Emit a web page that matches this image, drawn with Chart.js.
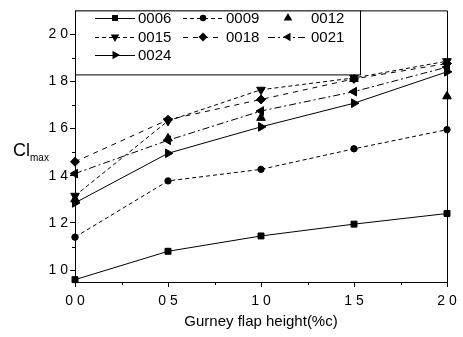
<!DOCTYPE HTML>
<html>
<head>
    <script src="https://cdn.jsdelivr.net/npm/chart.js"></script>
    <style>
        body { margin: 0; background: white; }
        #wrap { position: relative; width: 463px; height: 337px; }
        #ylab { position: absolute; left: 13px; top: 140px; font-family: 'Liberation Sans', Arial, sans-serif; font-size: 18px; color: black; }
        #ylab sub { font-size: 10px; }
    </style>
</head>
<body>

<div id="wrap">
    <canvas id="clChart" width="463" height="337"></canvas>
    <div id="ylab">Cl<sub>max</sub></div>
</div>

<script type="text/javascript">
    // gurney flap height (%c)
    const flapHeight = [0, 0.5, 1.0, 1.5, 2.0];

    const s0006 = [0.96, 1.08, 1.145, 1.195, 1.24];
    const s0009 = [1.14, 1.378, 1.427, 1.514, 1.595];
    const s0012 = [1.30, 1.558, 1.645, 1.81, 1.736];
    const s0015 = [1.315, 1.632, 1.764, 1.814, 1.885];
    const s0018 = [1.459, 1.637, 1.723, 1.81, 1.875];
    const s0021 = [1.409, 1.55, 1.674, 1.756, 1.86];
    const s0024 = [1.285, 1.495, 1.607, 1.707, 1.84];

    const seriesNames = ['0006', '0009', '0012', '0015', '0018', '0021', '0024'];

    const xTickValues = [0, 0.5, 1.0, 1.5, 2.0];
    const xTickLabels = ['0 0', '0 5', '1 0', '1 5', '2 0'];
    const xMinorTicks = [0.25, 0.75, 1.25, 1.75];
    const yTickValues = [1.0, 1.2, 1.4, 1.6, 1.8, 2.0];
    const yTickLabels = ['1 0', '1 2', '1 4', '1 6', '1 8', '2 0'];
    const yMinorTicks = [1.1, 1.3, 1.5, 1.7, 1.9];

    const FONT = "'Liberation Sans', Arial, sans-serif";

    function pts(values) {
        return values.map((v, i) => ({x: flapHeight[i], y: v}));
    }

    function makeSet(name, values, style, radius, rotation, dash, showLine) {
        return {
            label: name,
            data: pts(values),
            borderColor: 'black',
            backgroundColor: 'black',
            borderWidth: 1,
            borderDash: dash,
            pointStyle: style,
            pointRadius: radius,
            pointRotation: rotation,
            pointBorderWidth: 1,
            showLine: showLine,
            clip: false,
            tension: 0
        };
    }

    const datasets = [
        makeSet(seriesNames[0], s0006, 'rect', 4.2, 0, [], true),
        makeSet(seriesNames[1], s0009, 'circle', 3.2, 0, [4, 3], true),
        makeSet(seriesNames[2], s0012, 'triangle', 5, 0, [], false),
        makeSet(seriesNames[3], s0015, 'triangle', 5, 180, [4, 3], true),
        makeSet(seriesNames[4], s0018, 'rectRot', 4.5, 0, [5, 5], true),
        makeSet(seriesNames[5], s0021, 'triangle', 5, 270, [7, 3, 2, 3], true),
        makeSet(seriesNames[6], s0024, 'triangle', 5, 90, [], true)
    ];

    function marker(ctx, ds, x, y) {
        const r = ds.pointRadius;
        ctx.save();
        ctx.fillStyle = 'black';
        ctx.beginPath();
        if (ds.pointStyle === 'rect') {
            const s = Math.SQRT1_2 * r;
            ctx.rect(x - s, y - s, 2 * s, 2 * s);
        } else if (ds.pointStyle === 'circle') {
            ctx.arc(x, y, r, 0, Math.PI * 2);
        } else if (ds.pointStyle === 'rectRot') {
            ctx.moveTo(x, y - r); ctx.lineTo(x + r, y); ctx.lineTo(x, y + r); ctx.lineTo(x - r, y);
        } else {
            let rad = ds.pointRotation * Math.PI / 180;
            ctx.moveTo(x + Math.sin(rad) * r, y - Math.cos(rad) * r);
            rad += 2 * Math.PI / 3;
            ctx.lineTo(x + Math.sin(rad) * r, y - Math.cos(rad) * r);
            rad += 2 * Math.PI / 3;
            ctx.lineTo(x + Math.sin(rad) * r, y - Math.cos(rad) * r);
        }
        ctx.closePath();
        ctx.fill();
        ctx.restore();
    }

    // frame, minor ticks and the boxed legend
    const extras = {
        id: 'extras',
        afterDatasetsDraw(chart) {
            const ctx = chart.ctx;
            const a = chart.chartArea;
            const xs = chart.scales.x, ys = chart.scales.y;
            ctx.save();
            ctx.strokeStyle = 'black';
            ctx.lineWidth = 1;
            ctx.beginPath();
            ctx.moveTo(a.left, a.top + 0.5); ctx.lineTo(a.right + 0.5, a.top + 0.5);
            ctx.lineTo(a.right + 0.5, a.bottom);
            ctx.stroke();

            ctx.beginPath();
            xMinorTicks.forEach(v => {
                const px = Math.round(xs.getPixelForValue(v)) + 0.5;
                ctx.moveTo(px, a.bottom); ctx.lineTo(px, a.bottom + 3);
            });
            yMinorTicks.forEach(v => {
                const py = Math.round(ys.getPixelForValue(v)) + 0.5;
                ctx.moveTo(a.left, py); ctx.lineTo(a.left - 3, py);
            });
            ctx.stroke();

            // legend box
            const bx = a.left, by = a.top, bw = 285, bh = 64;
            ctx.fillStyle = 'white';
            ctx.fillRect(bx, by, bw, bh);
            ctx.strokeRect(bx + 0.5, by + 0.5, bw, bh);

            const colX = [95, 183, 268];
            const rowY = [18, 37, 55];
            ctx.font = '15px ' + FONT;
            ctx.textBaseline = 'middle';
            chart.data.datasets.forEach((ds, i) => {
                const x0 = colX[i % 3], y0 = rowY[Math.floor(i / 3)];
                if (ds.showLine) {
                    ctx.save();
                    ctx.setLineDash(ds.borderDash);
                    ctx.beginPath();
                    ctx.moveTo(x0, y0 + 0.5); ctx.lineTo(x0 + 40, y0 + 0.5);
                    ctx.stroke();
                    ctx.restore();
                }
                marker(ctx, ds, x0 + 20, y0);
                ctx.fillStyle = 'black';
                ctx.fillText(ds.label, x0 + 43, y0 + 1);
            });
            ctx.restore();
        }
    };

    new Chart(document.getElementById('clChart'), {
        type: 'scatter',
        data: { datasets: datasets },
        options: {
            responsive: false,
            animation: false,
            layout: { padding: { top: 4, right: 16, left: 0, bottom: 0 } },
            plugins: { legend: { display: false }, tooltip: { enabled: false } },
            scales: {
                x: {
                    type: 'linear',
                    min: 0, max: 2.0,
                    afterBuildTicks: s => { s.ticks = xTickValues.map(v => ({value: v})); },
                    afterFit: s => { s.height = 55; },
                    grid: { drawOnChartArea: false, tickLength: 5, tickColor: 'black' },
                    border: { display: true, color: 'black', width: 1 },
                    ticks: {
                        color: 'black', padding: 6, maxRotation: 0, autoSkip: false,
                        font: { family: FONT, size: 14 },
                        callback: (v, i) => xTickLabels[i]
                    },
                    title: {
                        display: true, text: 'Gurney flap height(%c)', color: 'black',
                        font: { family: FONT, size: 15 },
                        padding: { top: 0, bottom: 6 }
                    }
                },
                y: {
                    type: 'linear',
                    min: 0.95, max: 2.1,
                    afterBuildTicks: s => { s.ticks = yTickValues.map(v => ({value: v})); },
                    afterFit: s => { s.width = 75; },
                    grid: { drawOnChartArea: false, tickLength: 5, tickColor: 'black' },
                    border: { display: true, color: 'black', width: 1 },
                    ticks: {
                        color: 'black', padding: 2, autoSkip: false,
                        font: { family: FONT, size: 14 },
                        callback: (v, i) => yTickLabels[i]
                    }
                }
            }
        },
        plugins: [extras]
    });
</script>
</body>
</html>
